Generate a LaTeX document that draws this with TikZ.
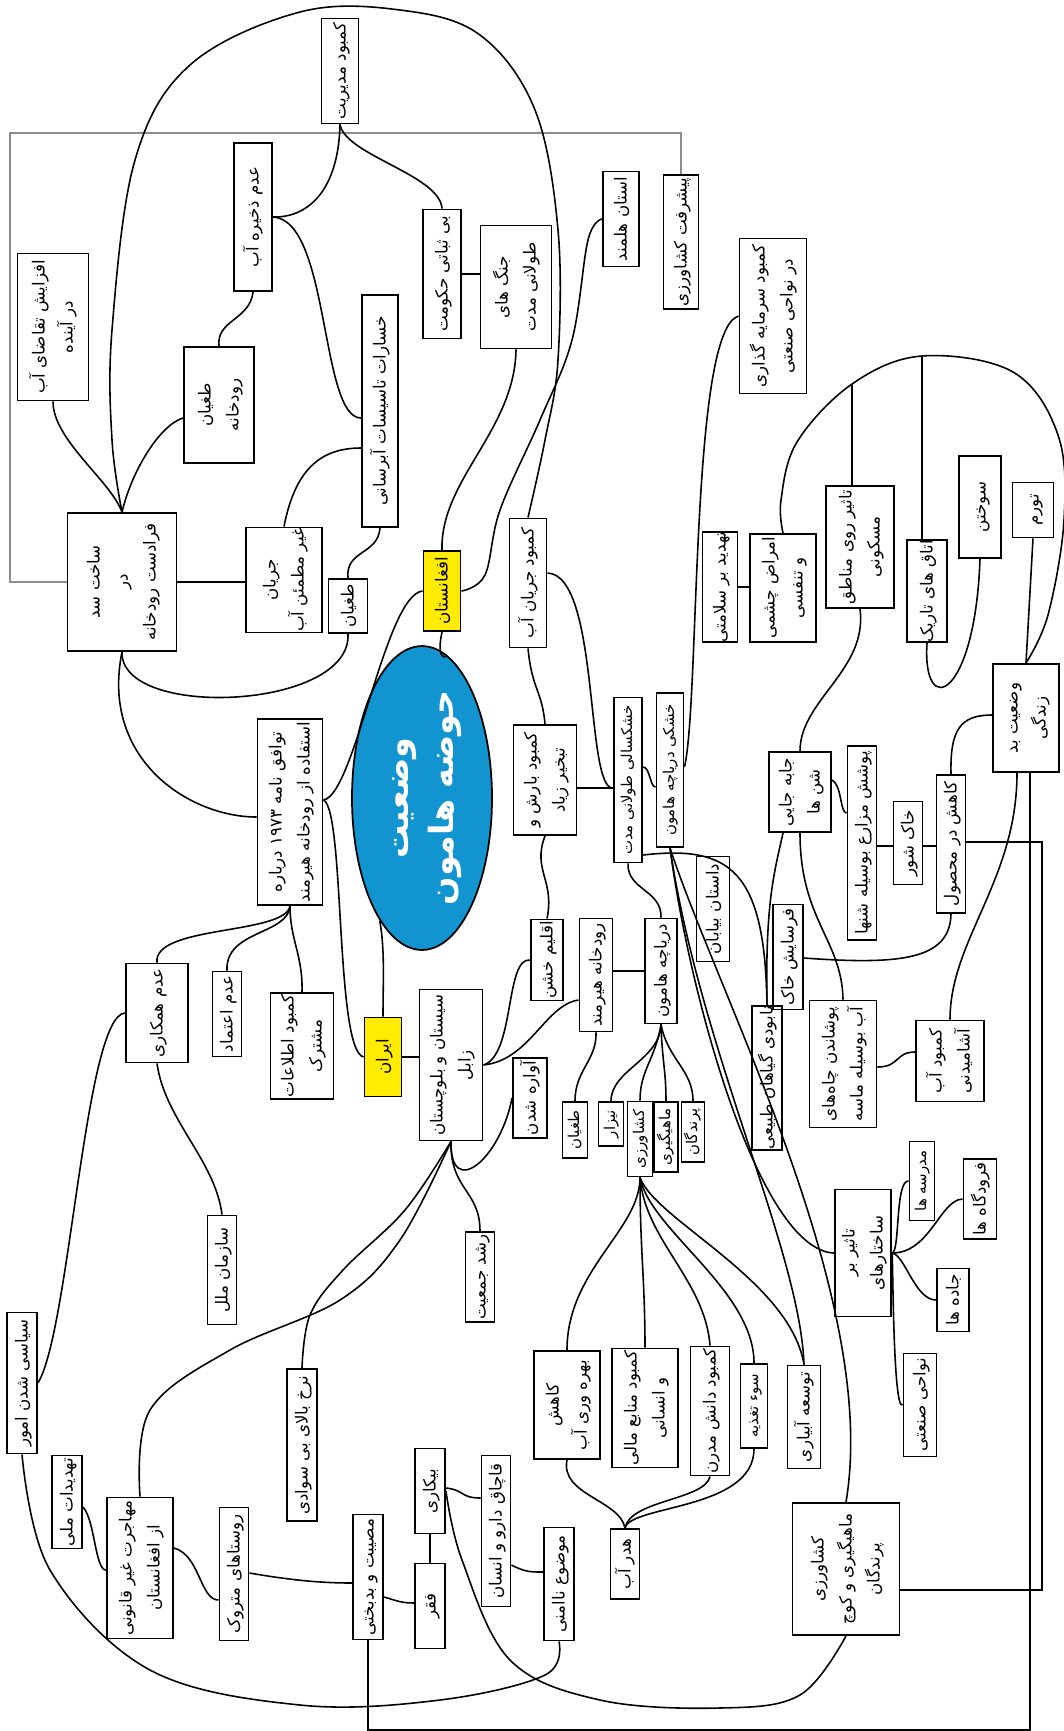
\documentclass[tikz,border=0pt]{standalone}
\usepackage{fontspec}
\usepackage{graphicx}
\usetikzlibrary{shapes.geometric}
\newfontfamily\arabicfont[Script=Arabic]{DejaVu Sans}
\TeXXeTstate=1
\definecolor{hamblue}{RGB}{18,148,208}
\definecolor{hamyellow}{RGB}{255,236,0}
% rotated text, one line per row
\newcommand{\vtext}[1]{\rotatebox{90}{\begin{tabular}{@{}c@{}}#1\end{tabular}}}

\begin{document}
\begin{tikzpicture}[x=0.02cm, y=-0.02cm,
  box/.style={draw, line width=1.1pt, inner sep=0pt, font=\arabicfont\fontsize{9.5}{16}\selectfont},
  sbox/.style={box, font=\arabicfont\fontsize{8.5}{12}\selectfont},
  sz/.style 2 args={minimum width=#1*0.02cm, minimum height=#2*0.02cm},
  link/.style={line width=0.9pt},
  grayline/.style={line width=0.8pt, black!45}]
\useasboundingbox (0,0) rectangle (1063,1731);

% centre
\node[ellipse, draw, line width=1pt, fill=hamblue, text=white, sz={140}{224}, inner sep=0pt,
  font=\arabicfont\bfseries\fontsize{19}{26}\selectfont] (hamoon) at (422,798) {\vtext{\beginR وضعیت\endR\\\beginR حوضه هامون\endR}};
\node[box, fill=hamyellow, sz={37}{80}] (afghan) at (442,591) {\vtext{\beginR افغانستان\endR}};
\node[box, fill=hamyellow, sz={37}{79}] (iran) at (383,1057) {\vtext{\beginR ایران\endR}};

% upper part
\node[box, sz={37}{105}] (modiriat) at (340,71) {\vtext{\beginR کمبود مدیریت\endR}};
\node[box, sz={38}{148}] (zakhire) at (253,217) {\vtext{\beginR عدم ذخیره آب\endR}};
\node[box, sz={71}{147}] (taghaza) at (53,327) {\vtext{\beginR افزایش تقاضای آب\endR\\\beginR در آینده\endR}};
\node[box, sz={70}{116}] (toghyanR) at (219,405) {\vtext{\beginR طغیان\endR\\\beginR رودخانه\endR}};
\node[box, sz={109}{138}] (sad) at (122,582) {\vtext{\beginR ساخت سد\endR\\\beginR در\endR\\\beginR فرادست رودخانه\endR}};
\node[box, sz={76}{105}] (jarian) at (284,580) {\vtext{\beginR جریان\endR\\\beginR غیر مطمئن آب\endR}};
\node[box, sz={39}{54}] (toghyanA) at (348,606) {\vtext{\beginR طغیان\endR}};
\node[box, sz={36}{232}] (khesarat) at (380,411) {\vtext{\beginR خسارات تاسیسات آبرسانی\endR}};
\node[box, sz={38}{129}] (bisobati) at (442,274) {\vtext{\beginR بی ثباتی حکومت\endR}};
\node[box, sz={71}{123}] (jang) at (516,287) {\vtext{\beginR جنگ های\endR\\\beginR طولانی مدت\endR}};
\node[box, sz={36}{95}] (helmand) at (621,219) {\vtext{\beginR استان هلمند\endR}};
\node[box, sz={35}{134}] (pishraft) at (681,242) {\vtext{\beginR پیشرفت کشاورزی\endR}};
\node[box, sz={67}{155}] (sarmaye) at (773,316) {\vtext{\beginR کمبود سرمایه گذاری\endR\\\beginR در نواحی صنعتی\endR}};
\node[box, sz={37}{129}] (jarianab) at (528,583) {\vtext{\beginR کمبود جریان آب\endR}};
\node[box, sz={63}{110}] (barash) at (545,780) {\vtext{\beginR کمبود بارش و\endR\\\beginR تبخیر زیاد\endR}};
\node[sbox, sz={28}{165}] (khoshksali) at (628,780) {\vtext{\beginR خشکسالی طولانی مدت\endR}};
\node[sbox, sz={27}{154}] (khoshki) at (670,770) {\vtext{\beginR خشکی دریاچه هامون\endR}};
\node[box, sz={65}{186}] (tavafogh) at (290,812) {\vtext{\beginR توافق نامه \beginL۱۹۷۳\endL{} درباره\endR\\\beginR استفاده از رودخانه هیرمند\endR}};

% right part
\node[box, sz={35}{100}] (salamat) at (720,587) {\vtext{\beginR تهدید بر سلامتی\endR}};
\node[box, sz={66}{108}] (amraz) at (783,588) {\vtext{\beginR امراض چشمی\endR\\\beginR و تنفسی\endR}};
\node[box, sz={68}{122}] (maskooni) at (860,547) {\vtext{\beginR تاثیر روی مناطق\endR\\\beginR مسکونی\endR}};
\node[box, sz={40}{94}] (otagh) at (927,591) {\vtext{\beginR اتاق های تاریک\endR}};
\node[box, sz={42}{102}] (sookhtan) at (980,507) {\vtext{\beginR سوختن\endR}};
\node[box, sz={41}{55}] (tavarrom) at (1033,510) {\vtext{\beginR تورم\endR}};
\node[box, sz={66}{108}] (zendegi) at (1026,718) {\vtext{\beginR وضعیت بد\endR\\\beginR زندگی\endR}};
\node[box, sz={62}{80}] (jabeja) at (800,792) {\vtext{\beginR جابه جایی\endR\\\beginR شن ها\endR}};
\node[box, sz={29}{194}] (mazare) at (862,843) {\vtext{\beginR پوشش مزارع بوسیله شنها\endR}};
\node[box, sz={29}{83}] (khakshoor) at (908,843) {\vtext{\beginR خاک شور\endR}};
\node[box, sz={29}{138}] (mahsool) at (951,844) {\vtext{\beginR کاهش در محصول\endR}};
\node[box, sz={33}{105}] (dastan) at (713,909) {\vtext{\beginR داستان بیابان\endR}};
\node[box, sz={30}{105}] (farsayesh) at (788,957) {\vtext{\beginR فرسایش خاک\endR}};
\node[box, sz={30}{135}] (nabudi) at (767,1078) {\vtext{\beginR نابودی گیاهان طبیعی\endR}};
\node[box, sz={67}{127}] (chah) at (843,1064) {\vtext{\beginR پوشاندن چاه‌های\endR\\\beginR آب بوسیله ماسه\endR}};
\node[box, sz={68}{81}] (ashamidani) at (950,1061) {\vtext{\beginR کمبود آب\endR\\\beginR آشامیدنی\endR}};
\node[sbox, sz={25}{79}] (madrese) at (922,1181) {\vtext{\beginR مدرسه ها\endR}};
\node[box, sz={33}{80}] (foroodgah) at (980,1199) {\vtext{\beginR فرودگاه ها\endR}};
\node[box, sz={42}{127}] (sakhtar) at (863,1253) {\vtext{\beginR تاثیر بر\endR\\\beginR ساختارهای\endR}};
\node[box, sz={32}{63}] (jadde) at (953,1300) {\vtext{\beginR جاده ها\endR}};
\node[box, sz={33}{103}] (sanati) at (920,1405) {\vtext{\beginR نواحی صنعتی\endR}};

% lower part
\node[box, sz={62}{99}] (hamkari) at (157,1013) {\vtext{\beginR عدم همکاری\endR}};
\node[box, sz={29}{85}] (etemad) at (227,1014) {\vtext{\beginR عدم اعتماد\endR}};
\node[box, sz={63}{106}] (etelaat) at (302,1046) {\vtext{\beginR کمبود اطلاعات\endR\\\beginR مشترک\endR}};
\node[box, sz={29}{109}] (sazman) at (222,1270) {\vtext{\beginR سازمان ملل\endR}};
\node[box, sz={63}{151}] (sistan) at (451,1065) {\vtext{\beginR سیستان و بلوچستان\endR\\\beginR زابل\endR}};
\node[box, sz={32}{81}] (eghlim) at (547,960) {\vtext{\beginR اقلیم خشن\endR}};
\node[box, sz={33}{113}] (hirmand) at (596,975) {\vtext{\beginR رودخانه هیرمند\endR}};
\node[box, sz={32}{105}] (daryache) at (661,971) {\vtext{\beginR دریاچه هامون\endR}};
\node[box, sz={34}{80}] (avare) at (530,1098) {\vtext{\beginR آواره شدن\endR}};
\node[sbox, sz={25}{56}] (toghyanB) at (575,1130) {\vtext{\beginR طغیان\endR}};
\node[sbox, sz={25}{44}] (neyzar) at (611,1124) {\vtext{\beginR نیزار\endR}};
\node[sbox, sz={25}{75}] (keshavarzi) at (640,1139) {\vtext{\beginR کشاورزی\endR}};
\node[sbox, sz={24}{70}] (mahigiri) at (666,1137) {\vtext{\beginR ماهیگیری\endR}};
\node[sbox, sz={23}{60}] (parandegan) at (693,1132) {\vtext{\beginR پرندگان\endR}};
\node[box, sz={29}{90}] (roshd) at (480,1277) {\vtext{\beginR رشد جمعیت\endR}};
\node[box, sz={39}{129}] (danesh) at (710,1411) {\vtext{\beginR کمبود دانش مدرن\endR}};
\node[sbox, sz={27}{84}] (taghzie) at (754,1406) {\vtext{\beginR سوء تغذیه\endR}};
\node[box, sz={33}{103}] (abyari) at (804,1417) {\vtext{\beginR توسعه آبیاری\endR}};
\node[box, sz={107}{132}] (koch) at (846,1569) {\vtext{\beginR کشاورزی\endR\\\beginR ماهیگیری و کوچ\endR\\\beginR پرندگان\endR}};
\node[box, sz={66}{108}] (bahrevari) at (567,1405) {\vtext{\beginR کاهش\endR\\\beginR بهره وری آب\endR}};
\node[box, sz={66}{119}] (manabe) at (645,1408) {\vtext{\beginR کمبود منابع مالی\endR\\\beginR و انسانی\endR}};
\node[box, sz={29}{70}] (hadar) at (625,1564) {\vtext{\beginR هدر آب\endR}};
\node[box, sz={30}{85}] (bikari) at (430,1491) {\vtext{\beginR بیکاری\endR}};
\node[box, sz={30}{85}] (faghr) at (430,1606) {\vtext{\beginR فقر\endR}};
\node[box, sz={29}{151}] (ghachagh) at (496,1531) {\vtext{\beginR قاچاق دارو و انسان\endR}};
\node[box, sz={30}{113}] (naamni) at (559,1584) {\vtext{\beginR موضوع ناامنی\endR}};
\node[box, sz={30}{125}] (mosibat) at (368,1577) {\vtext{\beginR مصیبت و بدبختی\endR}};
\node[box, sz={30}{141}] (siasi) at (22,1383) {\vtext{\beginR سیاسی شدن امور\endR}};
\node[box, sz={30}{93}] (tahdid) at (67,1502) {\vtext{\beginR تهدیدات ملی\endR}};
\node[box, sz={66}{141}] (mohajerat) at (140,1568) {\vtext{\beginR مهاجرت غیر قانونی\endR\\\beginR از افغانستان\endR}};
\node[box, sz={29}{133}] (roosta) at (234,1574) {\vtext{\beginR روستاهای متروک\endR}};
\node[box, sz={30}{152}] (savad) at (302,1445) {\vtext{\beginR نرخ بالای بی سوادی\endR}};

% gray frame
\draw[grayline] (sad.west) -| (10,133) -| (pishraft.north);

% links, upper part
\draw[link] (modiriat.south) .. controls (338,200) and (300,218) .. (zakhire.east);
\draw[link] (modiriat.south) .. controls (345,155) and (440,175) .. (bisobati.north);
\draw[link] (zakhire.east) .. controls (330,220) and (320,418) .. (khesarat.west |- 0,418);
\draw[link] (zakhire.south) .. controls (250,320) and (216,320) .. (toghyanR.north);
\draw[link] (toghyanR.west |- 0,418) .. controls (160,425) and (132,470) .. (sad.north);
\draw[link] (taghaza.south) .. controls (53,440) and (110,480) .. (sad.north);
\draw[link] plot[smooth, tension=0.6] coordinates {(sad.north) (112,440) (112,330) (135,160) (190,65) (300,12) (400,10) (480,35) (535,110) (558,230) (558,360) (545,440) (jarianab.north)};
\draw[link] (sad.east) -- (sad.east -| jarian.west);
\draw[link] (jarian.north) .. controls (295,470) and (320,448) .. (khesarat.west |- 0,448);
\draw[link] (toghyanA.north) .. controls (345,550) and (378,555) .. (khesarat.south);
\draw[link] (toghyanA.south) .. controls (352,710) and (120,720) .. (sad.south);
\draw[link] (sad.south) .. controls (100,760) and (190,817) .. (tavafogh.west |- 0,817);
\draw[link] (bisobati.east) -- (bisobati.east -| jang.west);
\draw[link] (jang.south) .. controls (515,430) and (440,480) .. (afghan.north);
\draw[link] plot[smooth, tension=0.6] coordinates {(helmand.west) (588,240) (572,340) (540,420) (500,510) (485,575) (afghan.east)};
\draw[link] (afghan.west) .. controls (385,595) and (355,795) .. (tavafogh.east |- 0,800);
\draw[link] (tavafogh.east |- 0,800) .. controls (345,810) and (335,1050) .. (iran.west);
\draw[link] (hamoon.80) .. controls (443,660) and (437,655) .. (afghan.south);
\draw[link] (hamoon.251) .. controls (385,950) and (383,980) .. (iran.north);
\draw[link] (jarianab.south) .. controls (532,690) and (542,690) .. (barash.north);
\draw[link] (jarianab.east |- 0,573) .. controls (600,575) and (585,790) .. (khoshksali.west |- 0,788);
\draw[link] (barash.east |- 0,788) -- (khoshksali.west |- 0,788);
\draw[link] (khoshksali.east |- 0,767) .. controls (650,767) and (650,787) .. (khoshki.west |- 0,787);
\draw[link] (khoshki.east |- 0,767) .. controls (700,700) and (690,330) .. (sarmaye.west);

% links, right part
\draw[link] (salamat.east) -- (salamat.east -| amraz.west);
\coordinate (arcM) at (852,384);
\coordinate (arcO) at (922,356);
\draw[link] plot[smooth, tension=0.6] coordinates {(amraz.north) (781,500) (797,442) (arcM) (arcO) (1013,372) (1058,435) (1064,520) (1048,615) (zendegi.north)};
\draw[link] (maskooni.north -| arcM) -- (arcM);
\draw[link] (otagh.north -| arcO) -- (arcO);
\draw[link] (otagh.south) .. controls (922,720) and (975,700) .. (sookhtan.south);
\draw[link] (tavarrom.south) -- (zendegi.north);
\draw[link] (maskooni.south) .. controls (868,670) and (800,700) .. (jabeja.north);
\draw[link] (jabeja.east |- 0,780) .. controls (842,785) and (840,813) .. (mazare.west |- 0,813);
\draw[link] (mazare.east |- 0,846) -- (khakshoor.west |- 0,846);
\draw[link] (khakshoor.east |- 0,846) -- (mahsool.west |- 0,846);
\draw[link] (mahsool.north) .. controls (950,730) and (960,715) .. (zendegi.west |- 0,715);
\draw[link] (farsayesh.east |- 0,958) .. controls (900,965) and (950,960) .. (mahsool.south);
\draw[link] (chah.east |- 0,1067) .. controls (900,1067) and (895,1052) .. (ashamidani.west |- 0,1052);
\draw[link] (zendegi.south -| 1017,0) .. controls (1017,880) and (950,940) .. (ashamidani.north);
\draw[link] (jabeja.south) .. controls (800,920) and (842,940) .. (chah.north);
\draw[link] (jabeja.south -| 783,0) .. controls (775,870) and (765,900) .. (nabudi.north);
\draw[link] (sakhtar.east) .. controls (900,1253) and (895,1180) .. (madrese.west);
\draw[link] (sakhtar.east) .. controls (930,1253) and (940,1200) .. (foroodgah.west);
\draw[link] (sakhtar.east) .. controls (905,1255) and (915,1300) .. (jadde.west);
\draw[link] (sakhtar.east) .. controls (893,1260) and (893,1410) .. (sanati.west);
\draw[link] (mahsool.east |- 0,842) -| (1042,1590) -- (koch.east |- 0,1590);
\draw[link] (zendegi.south -| 1030,0) -- (1030,1730) -| (mosibat.south);

% links, lake
\draw[link] (khoshksali.east |- 0,855) .. controls (730,845) and (765,870) .. (nabudi.north);
\draw[link] (khoshki.south) .. controls (690,1000) and (760,1250) .. (sakhtar.west);
\draw[link] (khoshki.south) .. controls (700,1050) and (800,1250) .. (abyari.north);
\draw[link] (khoshki.south) .. controls (720,1000) and (880,1300) .. (koch.north);
\draw[link] (daryache.north) .. controls (662,890) and (627,890) .. (khoshksali.south);
\draw[link] (eghlim.north) .. controls (555,880) and (532,870) .. (barash.south);
\draw[link] (hirmand.east |- daryache.west) -- (daryache.west);
\draw[link] (hirmand.south) .. controls (597,1060) and (575,1070) .. (toghyanB.north);
\draw[link] (daryache.south) .. controls (660,1060) and (611,1070) .. (neyzar.north);
\draw[link] (daryache.south) .. controls (655,1060) and (640,1070) .. (keshavarzi.north);
\draw[link] (daryache.south) .. controls (662,1060) and (666,1070) .. (mahigiri.north);
\draw[link] (daryache.south) .. controls (668,1060) and (693,1070) .. (parandegan.north);
\draw[link] (keshavarzi.south) .. controls (640,1230) and (567,1270) .. (bahrevari.north);
\draw[link] (keshavarzi.south) .. controls (640,1250) and (645,1280) .. (manabe.north);
\draw[link] (keshavarzi.south) .. controls (645,1240) and (705,1280) .. (danesh.north);
\draw[link] (keshavarzi.south) .. controls (650,1230) and (754,1290) .. (taghzie.north);
\draw[link] (keshavarzi.south) .. controls (655,1220) and (790,1280) .. (abyari.north);
\draw[link] (bahrevari.south) .. controls (560,1495) and (620,1500) .. (hadar.north);
\draw[link] (danesh.south) .. controls (705,1500) and (630,1500) .. (hadar.north);
\draw[link] (taghzie.south) .. controls (754,1510) and (630,1505) .. (hadar.north);

% links, lower part
\draw[link] (tavafogh.south) .. controls (285,935) and (153,925) .. (hamkari.north);
\draw[link] (tavafogh.south) .. controls (288,935) and (225,930) .. (etemad.north);
\draw[link] (tavafogh.south) .. controls (290,940) and (303,955) .. (etelaat.north);
\draw[link] (hamkari.west) .. controls (85,1015) and (70,1330) .. (siasi.east);
\draw[link] (hamkari.south) .. controls (165,1120) and (215,1160) .. (sazman.north);
\draw[link] (iran.east) -- (iran.east -| sistan.west);
\draw[link] (sistan.east) .. controls (515,1055) and (505,957) .. (eghlim.west);
\draw[link] (sistan.east) .. controls (530,1060) and (545,1005) .. (hirmand.west |- 0,1000);
\draw[link] (sistan.south) .. controls (450,1200) and (500,1160) .. (avare.west);
\draw[link] (sistan.south) .. controls (450,1190) and (480,1190) .. (roshd.north);
\draw[link] plot[smooth, tension=0.6] coordinates {(sistan.south) (400,1240) (340,1300) (230,1350) (150,1410) (mohajerat.north)};
\draw[link] plot[smooth, tension=0.6] coordinates {(sistan.south) (405,1210) (343,1270) (310,1315) (savad.north)};
\draw[link] (bikari.south) -- (faghr.north);
\draw[link] (bikari.east |- 0,1488) .. controls (465,1490) and (460,1498) .. (ghachagh.west |- 0,1498);
\draw[link] (ghachagh.east |- 0,1565) .. controls (525,1572) and (530,1572) .. (naamni.west |- 0,1572);
\draw[link] (mosibat.east |- 0,1597) .. controls (395,1600) and (400,1603) .. (faghr.west |- 0,1603);
\draw[link] (roosta.east |- 0,1573) .. controls (290,1580) and (320,1583) .. (mosibat.west |- 0,1583);
\draw[link] plot[smooth, tension=0.6] coordinates {(bikari.east) (462,1560) (510,1660) (600,1700) (720,1708) (800,1695) (koch.south)};
\draw[link] plot[smooth, tension=0.6] coordinates {(naamni.south) (545,1675) (440,1700) (300,1705) (150,1670) (50,1570) (siasi.south)};
\draw[link] (tahdid.east |- 0,1507) .. controls (95,1520) and (95,1570) .. (mohajerat.west |- 0,1570);
\draw[link] (mohajerat.east |- 0,1548) .. controls (200,1555) and (200,1600) .. (roosta.west |- 0,1600);
\end{tikzpicture}
\end{document}
